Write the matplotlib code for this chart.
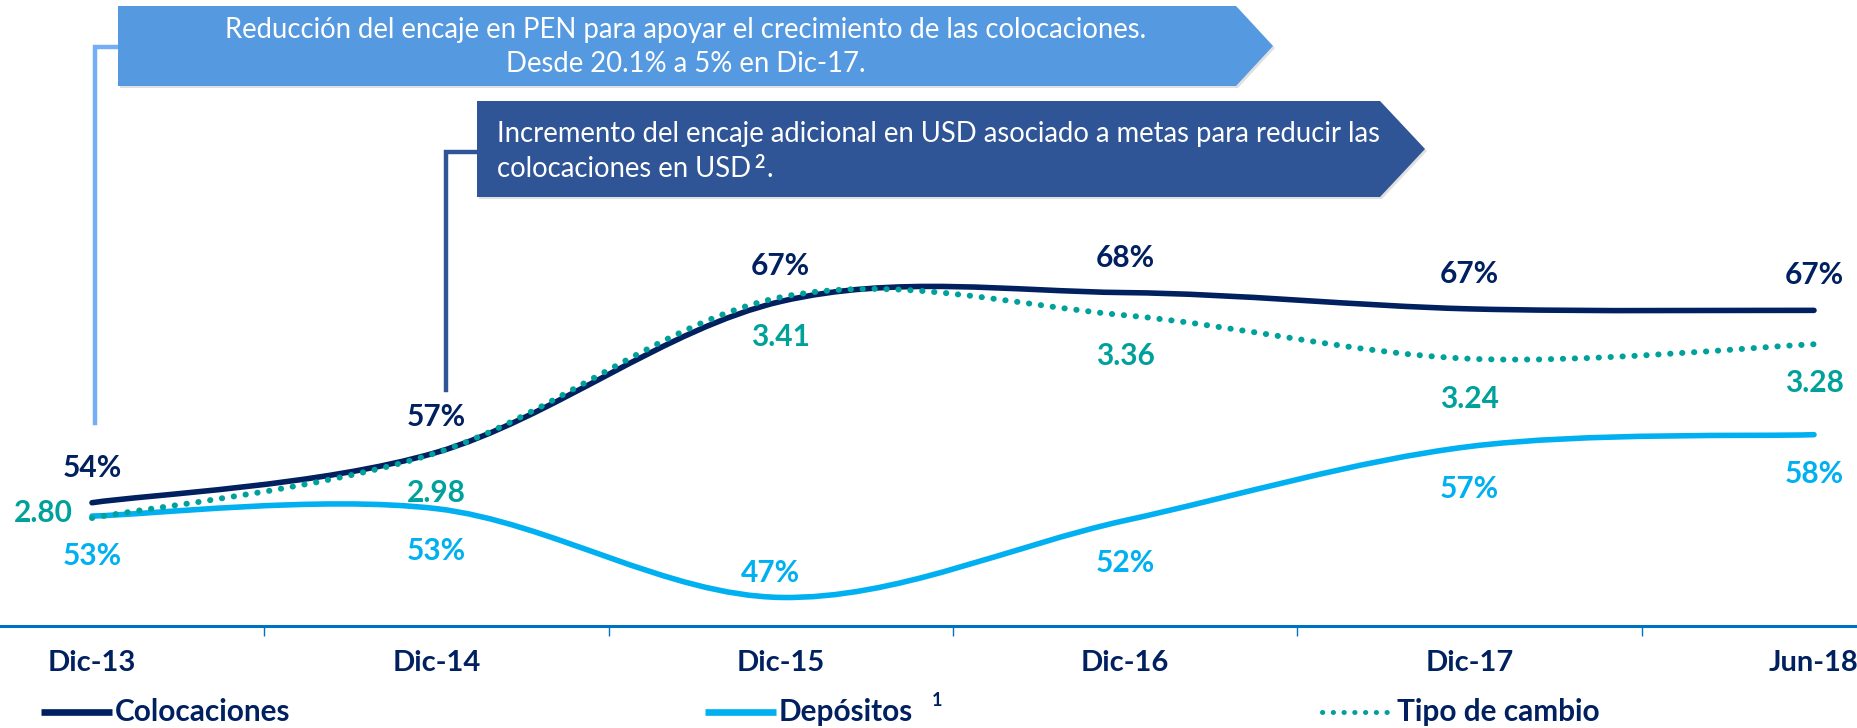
import matplotlib
matplotlib.use("Agg")
import matplotlib.pyplot as plt
from matplotlib.path import Path
from matplotlib.patches import PathPatch, Polygon
from matplotlib.lines import Line2D
import numpy as np

# ---------------- data ----------------
categories = ["Dic-13", "Dic-14", "Dic-15", "Dic-16", "Dic-17", "Jun-18"]
colocaciones = [53.6, 57.0, 67.2, 67.8, 66.7, 66.6]      # % (left scale)
depositos = [52.7, 53.2, 47.2, 52.4, 57.4, 58.2]         # % (left scale)
tipo_cambio = [2.80, 2.98, 3.41, 3.36, 3.24, 3.28]       # PEN/USD (right scale)

legend_labels = ["Colocaciones", "Depósitos", "Tipo de cambio"]
note1 = "Reducción del encaje en PEN para apoyar el crecimiento de las colocaciones.\nDesde 20.1% a 5% en Dic-17."
note2_l1 = "Incremento del encaje adicional en USD asociado a metas para reducir las"
note2_l2 = "colocaciones en USD"

# ---------------- style ----------------
NAVY = "#002060"
CYAN = "#00B0F0"
TEAL = "#00A19A"
AXBLUE = "#0070C0"
BOX1 = "#5599E0"
BOX1_LINE = "#74AEF5"
BOX2 = "#2F5597"
FONT = "Lato"
plt.rcParams["font.family"] = [FONT, "DejaVu Sans"]

W, H = 1857, 728
PX = 100 / 72.0  # pixels per point at dpi 100

fig = plt.figure(figsize=(W / 100, H / 100), dpi=100)


def fx(px):
    return px / W


def fy(py):
    return 1 - py / H


ax_bottom_px, ax_top_px = 626, 230
ax = fig.add_axes([0, fy(ax_bottom_px), 1, (ax_bottom_px - ax_top_px) / H])
ax2 = ax.twinx()

n = len(categories)
x = np.arange(n)
step = 344.4
x0 = 92
ax.set_xlim(-x0 / step, (W - x0) / step)
ax.set_ylim(45.27, 72.03)
ax2.set_ylim(2.5017, 3.5956)


def smooth_path(xs, ys):
    pts = np.column_stack([xs, ys]).astype(float)
    verts = [pts[0]]
    codes = [Path.MOVETO]
    m = len(pts)
    for i in range(m - 1):
        p0 = pts[i - 1] if i > 0 else pts[i]
        p1 = pts[i]
        p2 = pts[i + 1]
        p3 = pts[i + 2] if i + 2 < m else pts[i + 1]
        c1 = p1 + (p2 - p0) / 6.0
        c2 = p2 - (p3 - p1) / 6.0
        verts += [c1, c2, p2]
        codes += [Path.CURVE4] * 3
    return Path(verts, codes)


LW = 4.0
ax.add_patch(PathPatch(smooth_path(x, depositos), fill=False, edgecolor=CYAN,
                       lw=LW, capstyle="round", joinstyle="round", zorder=3))
ax.add_patch(PathPatch(smooth_path(x, colocaciones), fill=False, edgecolor=NAVY,
                       lw=LW, capstyle="round", joinstyle="round", zorder=4))
ax2.add_patch(PathPatch(smooth_path(x, tipo_cambio), fill=False, edgecolor=TEAL,
                        lw=4.3, linestyle=(0, (0.05, 1.95)), capstyle="round", zorder=5))

# axis styling
for a in (ax, ax2):
    for s in ("top", "right", "left"):
        a.spines[s].set_visible(False)
    a.patch.set_visible(False)
ax2.spines["bottom"].set_visible(False)
ax.spines["bottom"].set_color(AXBLUE)
ax.spines["bottom"].set_linewidth(2.2)
ax.set_yticks([])
ax2.set_yticks([])
ax.set_xticks(x)
ax.set_xticklabels(categories, fontsize=21, fontweight="bold", color=NAVY)
ax.tick_params(axis="x", which="major", length=0, pad=17.5)
ax.set_xticks(x[:-1] + 0.5, minor=True)
ax.tick_params(axis="x", which="minor", length=7.5, width=1.0, color=AXBLUE, direction="out")

LBL = dict(fontsize=21.5, fontweight="bold", ha="center", va="center",
           textcoords="offset points")

col_off = [(0, 35)] * n
dep_off = [(0, -40), (0, -42), (-10, 24), (0, -43), (0, -43), (0, -39)]
tc_off = [(-49, 5), (0, -40), (0, -40), (0, -41), (0, -40), (0, -39)]

for i in range(n):
    ax.annotate(f"{colocaciones[i]:.0f}%", (x[i], colocaciones[i]),
                xytext=(col_off[i][0] / PX, col_off[i][1] / PX), color=NAVY, **LBL)
    ax.annotate(f"{depositos[i]:.0f}%", (x[i], depositos[i]),
                xytext=(dep_off[i][0] / PX, dep_off[i][1] / PX), color=CYAN, **LBL)
    ax2.annotate(f"{tipo_cambio[i]:.2f}", (x[i], tipo_cambio[i]),
                 xytext=(tc_off[i][0] / PX, tc_off[i][1] / PX), color=TEAL, **LBL)

# ---------------- callouts ----------------
def arrow_box(left, right, tip, top, bottom, color, z):
    mid = (top + bottom) / 2
    pts = [(fx(left), fy(top)), (fx(right), fy(top)), (fx(tip), fy(mid)),
           (fx(right), fy(bottom)), (fx(left), fy(bottom))]
    # soft shadow
    sh = [(px + 2 / W, py - 2 / H) for px, py in pts]
    fig.patches.append(Polygon(sh, closed=True, transform=fig.transFigure,
                               facecolor="#000000", alpha=0.12, lw=0, zorder=z - 0.5))
    fig.patches.append(Polygon(pts, closed=True, transform=fig.transFigure,
                               facecolor=color, edgecolor="none", zorder=z))


NOTE_FS = 19.8

# connector 1
fig.add_artist(Line2D([fx(95), fx(95), fx(118)], [fy(423), fy(47), fy(47)],
                      transform=fig.transFigure, color=BOX1_LINE, lw=3.2,
                      solid_joinstyle="miter", zorder=1))
arrow_box(118, 1236, 1273, 6, 86, BOX1, 2)
fig.text(fx(686), fy(30), note1.split("\n")[0], color="white", fontsize=NOTE_FS,
         ha="center", va="center", zorder=6)
fig.text(fx(686), fy(64), note1.split("\n")[1], color="white", fontsize=NOTE_FS,
         ha="center", va="center", zorder=6)

# connector 2
fig.add_artist(Line2D([fx(446), fx(446), fx(477)], [fy(390), fy(152), fy(152)],
                      transform=fig.transFigure, color=BOX2, lw=3.2,
                      solid_joinstyle="miter", zorder=1))
arrow_box(477, 1380, 1425, 101, 197, BOX2, 3)
fig.text(fx(497), fy(134), note2_l1, color="white", fontsize=NOTE_FS,
         ha="left", va="center", zorder=6)
t2 = fig.text(fx(497), fy(169), note2_l2, color="white", fontsize=NOTE_FS,
              ha="left", va="center", zorder=6)
fig.canvas.draw()
bb = t2.get_window_extent()
fig.text(bb.x1 / W + 3 / W, fy(162), "2", color="white", fontsize=13,
         fontweight="bold", ha="left", va="center", zorder=6)
fig.text(bb.x1 / W + 15 / W, fy(169), ".", color="white", fontsize=NOTE_FS,
         ha="left", va="center", zorder=6)

# ---------------- legend ----------------
LY = fy(712)
LFS = 21.4
fig.add_artist(Line2D([fx(41), fx(112)], [LY, LY], transform=fig.transFigure,
                      color=NAVY, lw=4.8, solid_capstyle="butt"))
fig.text(fx(115), LY, legend_labels[0], color=NAVY, fontsize=LFS,
         fontweight="bold", ha="left", va="center")
fig.add_artist(Line2D([fx(705), fx(776)], [LY, LY], transform=fig.transFigure,
                      color=CYAN, lw=4.8, solid_capstyle="butt"))
fig.text(fx(779), LY, legend_labels[1], color=NAVY, fontsize=LFS,
         fontweight="bold", ha="left", va="center")
fig.text(fx(932), fy(701), "1", color=NAVY, fontsize=13,
         fontweight="bold", ha="left", va="center")
fig.add_artist(Line2D([fx(1322), fx(1390)], [LY, LY], transform=fig.transFigure,
                      color=TEAL, lw=3.6, linestyle=(0, (0.05, 2.1)),
                      dash_capstyle="round"))
fig.text(fx(1397), LY, legend_labels[2], color=NAVY, fontsize=LFS,
         fontweight="bold", ha="left", va="center")

fig.savefig("out.png", dpi=100, facecolor="white")
